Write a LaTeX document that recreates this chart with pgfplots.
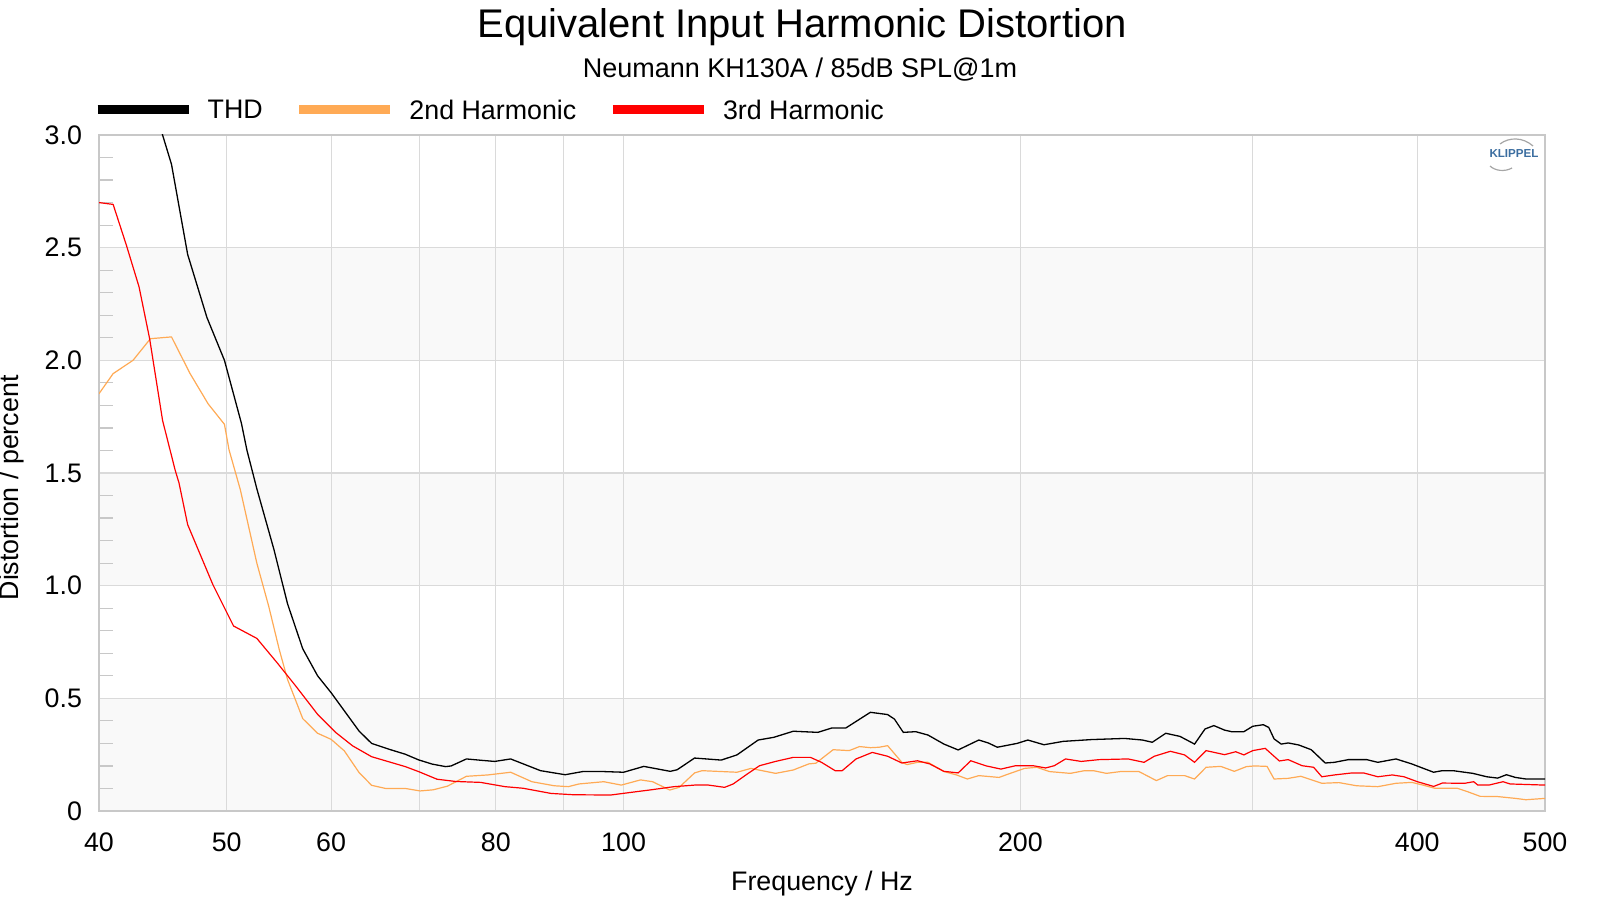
\documentclass[border=0pt]{standalone}
\usepackage{fontspec}
\setmainfont{Liberation Sans}
\usepackage{pgfplots}
\pgfplotsset{compat=1.18}
\definecolor{thd}{RGB}{0,0,0}
\definecolor{htwo}{RGB}{255,170,85}
\definecolor{hthree}{RGB}{255,0,0}
\definecolor{band}{RGB}{249,249,249}
\definecolor{gridc}{RGB}{218,218,218}
\definecolor{framec}{RGB}{200,200,200}
\definecolor{klip}{RGB}{60,110,160}
\begin{document}
\begin{tikzpicture}
\begin{axis}[
  set layers,
  scale only axis, width=723pt, height=338pt,
  xmode=log, xmin=40, xmax=500, ymin=0, ymax=3,
  axis line style={framec, line width=0.6pt},
  xtick={40,50,60,70,80,90,100,200,300,400,500},
  xticklabels={40,50,60,,80,,100,200,,400,500},
  xminorticks=false,
  ytick={0,0.5,1,1.5,2,2.5,3},
  yticklabels={0,0.5,1.0,1.5,2.0,2.5,3.0},
  minor ytick={0.1,0.2,0.3,0.4,0.6,0.7,0.8,0.9,1.1,1.2,1.3,1.4,1.6,1.7,1.8,1.9,2.1,2.2,2.3,2.4,2.6,2.7,2.8,2.9},
  grid=major, major grid style={gridc, line width=0.6pt},
  tick align=inside, ytick pos=left, xtick pos=bottom,
  major tick length=0pt, minor tick length=7pt,
  minor tick style={framec, line width=0.6pt},
  /pgf/number format/assume math mode=true,
  tick label style={font=\fontsize{13.4}{16}\selectfont},
  xticklabel style={anchor=base, yshift=-20.3pt},
  yticklabel style={anchor=east, xshift=-5pt},
  xlabel={Frequency / Hz}, ylabel={Distortion / percent},
  label style={font=\fontsize{13.4}{16}\selectfont},
  xlabel style={at={(axis description cs:0.5,0)}, anchor=base, yshift=-39.5pt},
  ylabel style={at={(axis description cs:-0.0602,0.478)}, anchor=center},
  legend columns=3,
  legend style={draw=none, fill=none, inner sep=0pt, outer sep=0pt,
    at={(axis description cs:0,1)}, anchor=south west, yshift=6.3pt, xshift=-3pt,
    font=\fontsize{13.4}{16}\selectfont,
    nodes={inner sep=0pt},
    /tikz/every odd column/.append style={column sep=7.35pt},
    /tikz/every even column/.append style={column sep=16pt}},
  legend image code/.code={\draw[#1,line width=4.5pt] (0pt,0.8pt) -- (45.5pt,0.8pt);},
]
\begin{pgfonlayer}{axis background}
\fill[band] (axis cs:40,0) rectangle (axis cs:500,0.5);
\fill[band] (axis cs:40,1) rectangle (axis cs:500,1.5);
\fill[band] (axis cs:40,2) rectangle (axis cs:500,2.5);
\end{pgfonlayer}

\addplot[thd, line width=0.65pt] coordinates {
(43.0,3.40) (44.7,3.00) (45.4,2.87) (46.7,2.47) (48.3,2.19) (49.8,2.00) (51.3,1.72) (51.8,1.60)
(52.7,1.43) (54.3,1.16) (55.6,0.92) (57.1,0.72) (58.6,0.60) (60.0,0.525) (63.0,0.355) (64.4,0.30)
(66.4,0.274) (68.3,0.252) (69.9,0.227) (71.6,0.208) (73.3,0.197) (74.0,0.200) (76.0,0.231) (78.0,0.225)
(79.85,0.220) (82.1,0.231) (86.5,0.179) (90.3,0.161) (93.1,0.175) (96.6,0.175) (100,0.172) (103.6,0.198)
(108.5,0.176) (109.8,0.183) (113.2,0.235) (118.6,0.226) (121.9,0.249) (126.5,0.315) (130.0,0.327)
(134.5,0.354) (140.4,0.349) (143.8,0.368) (147.4,0.368) (153.9,0.438) (158.6,0.428) (160.5,0.408)
(163.0,0.349) (166.6,0.352) (170.2,0.337) (175.0,0.297) (179.4,0.271) (186.0,0.315) (189.1,0.302)
(192.1,0.283) (198.9,0.300) (202.6,0.315) (208.4,0.294) (215.5,0.309) (226.5,0.317) (239.9,0.322)
(247.5,0.315) (251.8,0.305) (257.8,0.345) (264.3,0.331) (271.1,0.297) (276.1,0.364) (280.4,0.379)
(285.7,0.359) (289.2,0.352) (295.5,0.352) (300.1,0.376) (305.7,0.383) (308.6,0.371) (311.5,0.320)
(315.4,0.297) (319.3,0.302) (325.2,0.293) (332.4,0.272) (340.6,0.213) (346.1,0.216) (354.7,0.228)
(366.2,0.228) (373.4,0.216) (385.5,0.231) (396.2,0.209) (402.3,0.194) (411.6,0.172) (417.9,0.179)
(425.8,0.179) (440.8,0.167) (451.6,0.152) (460.3,0.146) (467.4,0.161) (474.8,0.149) (483.6,0.142)
(500,0.142)
};
\addplot[htwo, line width=0.6pt] coordinates {
(40,1.852) (41.0,1.941) (42.45,2.00) (43.76,2.096) (45.4,2.104) (46.9,1.941) (48.4,1.807) (49.8,1.716)
(50.2,1.603) (51.2,1.426) (52.7,1.10) (53.8,0.909) (54.8,0.717) (55.6,0.584) (57.1,0.410) (58.6,0.345)
(60.0,0.318) (61.4,0.267) (63.0,0.171) (64.4,0.114) (66.0,0.100) (68.3,0.100) (70.1,0.089) (71.7,0.094)
(73.5,0.110) (76.0,0.154) (78.9,0.160) (82.1,0.172) (85.2,0.130) (88.6,0.112) (90.8,0.108) (92.5,0.120)
(96.6,0.130) (99.6,0.115) (103.0,0.138) (105.2,0.130) (108.4,0.093) (110.2,0.105) (113.2,0.169)
(114.7,0.179) (121.9,0.172) (124.9,0.189) (130.4,0.167) (134.5,0.182) (138.2,0.209) (139.9,0.212)
(144.2,0.272) (148.3,0.268) (151.0,0.286) (153.9,0.281) (156.3,0.283) (158.6,0.290) (162.6,0.216)
(164.1,0.206) (167.1,0.216) (170.2,0.216) (175.0,0.175) (178.9,0.160) (182.3,0.142) (186.0,0.157)
(192.7,0.149) (195.2,0.161) (201.4,0.189) (205.8,0.194) (210.4,0.175) (218.2,0.167) (223.7,0.179)
(227.2,0.179) (232.4,0.167) (238.2,0.175) (246.0,0.175) (253.6,0.135) (258.6,0.157) (266.4,0.157)
(271.1,0.142) (276.6,0.194) (283.8,0.198) (290.6,0.176) (296.8,0.197) (301.0,0.200) (307.7,0.198)
(311.5,0.142) (319.3,0.145) (326.4,0.154) (338.6,0.123) (348.9,0.126) (359.8,0.112) (373.4,0.108)
(385.5,0.123) (396.2,0.127) (404.0,0.115) (412.4,0.101) (428.9,0.101) (436.6,0.086) (446.5,0.065)
(460.3,0.064) (474.8,0.056) (483.6,0.050) (500,0.056)
};
\addplot[hthree, line width=0.6pt] coordinates {
(40,2.70) (41.0,2.692) (41.96,2.511) (42.9,2.326) (43.7,2.096) (44.7,1.733) (45.7,1.511) (46.0,1.456)
(46.7,1.271) (48.8,1.005) (50.6,0.821) (52.7,0.766) (54.6,0.658) (56.4,0.555) (58.6,0.429) (60.5,0.348)
(62.3,0.289) (64.4,0.241) (68.3,0.197) (69.9,0.175) (72.2,0.141) (74.6,0.131) (77.9,0.127) (81.3,0.108)
(83.9,0.101) (88.1,0.078) (91.7,0.072) (97.8,0.071) (101.4,0.083) (104.6,0.093) (109.2,0.108)
(113.2,0.115) (116.0,0.115) (119.3,0.105) (121.1,0.120) (124.1,0.164) (126.8,0.201) (130.4,0.220)
(134.5,0.238) (138.6,0.238) (141.3,0.216) (144.7,0.179) (146.5,0.179) (150.1,0.231) (154.4,0.260)
(158.6,0.243) (162.6,0.213) (167.1,0.223) (170.7,0.209) (175.0,0.176) (179.4,0.169) (183.4,0.223)
(188.5,0.200) (193.3,0.186) (198.3,0.201) (204.5,0.201) (209.0,0.191) (212.2,0.201) (216.4,0.231)
(222.4,0.220) (229.5,0.228) (241.4,0.231) (248.2,0.216) (252.7,0.243) (259.9,0.265) (266.4,0.249)
(271.1,0.216) (276.6,0.268) (285.7,0.250) (291.3,0.263) (295.5,0.249) (300.1,0.268) (306.7,0.278)
(314.4,0.222) (319.3,0.228) (327.1,0.201) (333.8,0.194) (338.6,0.152) (346.1,0.160) (357.0,0.169)
(364.2,0.169) (373.4,0.152) (383.0,0.160) (390.9,0.152) (400.1,0.130) (411.6,0.109) (417.9,0.124)
(434.6,0.123) (441.4,0.130) (444.7,0.115) (453.3,0.115) (464.7,0.130) (470.4,0.120) (500,0.115)
};
\legend{THD,2nd Harmonic,3rd Harmonic}
\end{axis}
\node[font=\fontsize{20}{24}\selectfont, anchor=base, inner sep=0pt] at (351.5pt,386.5pt) {Equivalent Input Harmonic Distortion};
\node[font=\fontsize{13.5}{16}\selectfont, anchor=base, inner sep=0pt] at (350.5pt,366.5pt) {Neumann KH130A / 85dB SPL@1m};
\node[font=\fontsize{5.8}{7}\selectfont\bfseries, text=klip, inner sep=0pt] at (707.5pt,328.5pt) {KLIPPEL};
\draw[gray!70, line width=0.6pt] (700.5pt,333.5pt) .. controls (705pt,337pt) and (712pt,337pt) .. (717pt,332.5pt);
\draw[gray!70, line width=0.6pt] (695.5pt,322.5pt) .. controls (698pt,320pt) and (703pt,319.5pt) .. (706.5pt,321.5pt);
\pgfresetboundingbox
\path (-49.5pt,-44.5pt) rectangle (750.5pt,405.5pt);
\end{tikzpicture}
\end{document}
